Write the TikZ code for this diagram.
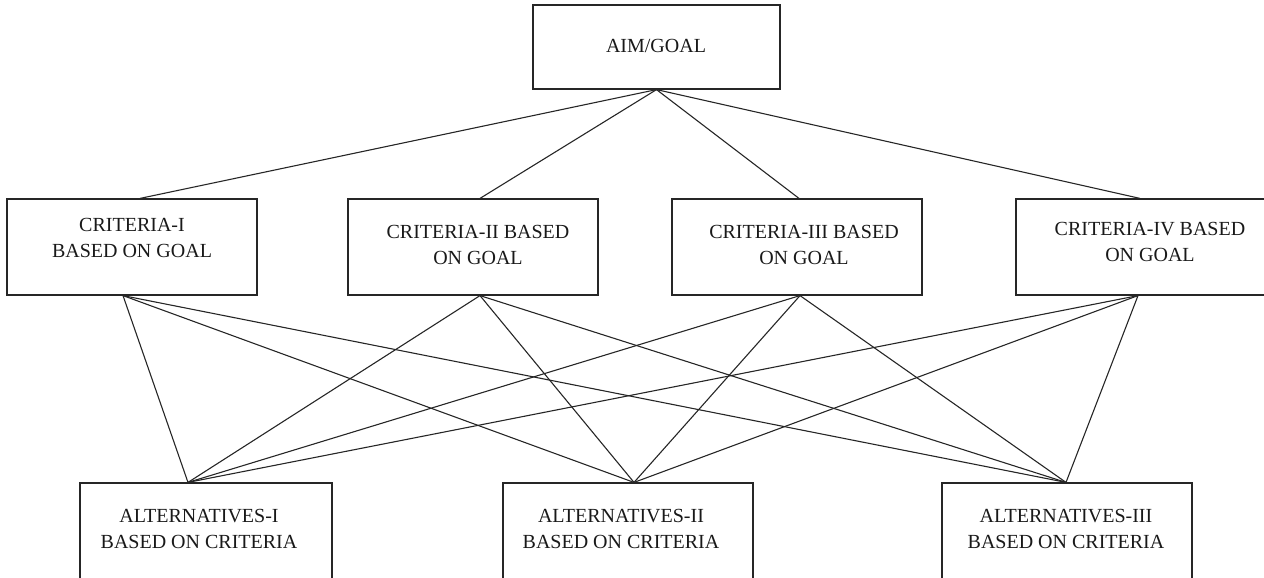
\documentclass[tikz,border=0pt]{standalone}
\usepackage{fontspec}
\setmainfont{Liberation Serif}
\begin{document}
\begin{tikzpicture}[x=0.5pt,y=-0.5pt,
  box/.style={draw=black!85, line width=0.6pt, rectangle, inner sep=0pt},
  lbl/.style={align=center, inner sep=0pt, font=\fontsize{10}{13}\selectfont, text=black!90},
  link/.style={draw=black!85, line width=0.55pt}]
\useasboundingbox (0,0) rectangle (1264,578);
% boxes
\node[box, minimum width=123.5pt, minimum height=42pt] (aim) at (656.5,47) {};
\node[box, minimum width=125pt, minimum height=48pt] (c1) at (132,247) {};
\node[box, minimum width=125pt, minimum height=48pt] (c2) at (473,247) {};
\node[box, minimum width=125pt, minimum height=48pt] (c3) at (797,247) {};
\node[box, minimum width=126pt, minimum height=48pt] (c4) at (1142,247) {};
\node[box, minimum width=126pt, minimum height=48pt] (a1) at (206,531) {};
\node[box, minimum width=125pt, minimum height=48pt] (a2) at (628,531) {};
\node[box, minimum width=125pt, minimum height=48pt] (a3) at (1067,531) {};
% labels
\node[lbl] (aimt) at (656,46) {AIM/GOAL};
\node[lbl] (c1t) at (132,238) {CRITERIA-I\\BASED ON GOAL};
\node[lbl] (c2t) at (478,245) {CRITERIA-II BASED\\ON GOAL};
\node[lbl] (c3t) at (804,245) {CRITERIA-III BASED\\ON GOAL};
\node[lbl] (c4t) at (1150,242) {CRITERIA-IV BASED\\ON GOAL};
\node[lbl] (a1t) at (199,529) {ALTERNATIVES-I\\BASED ON CRITERIA};
\node[lbl] (a2t) at (621,529) {ALTERNATIVES-II\\BASED ON CRITERIA};
\node[lbl] (a3t) at (1066,529) {ALTERNATIVES-III\\BASED ON CRITERIA};
% connection points
\coordinate (ab) at (aim.south);
\coordinate (c1u) at ([xshift=4pt]c1.north);
\coordinate (c2u) at ([xshift=3.5pt]c2.north);
\coordinate (c3u) at ([xshift=1pt]c3.north);
\coordinate (c4u) at ([xshift=-1pt]c4.north);
\coordinate (c1d) at ([xshift=-4.5pt]c1.south);
\coordinate (c2d) at ([xshift=3.5pt]c2.south);
\coordinate (c3d) at ([xshift=1.5pt]c3.south);
\coordinate (c4d) at ([xshift=-2pt]c4.south);
\coordinate (a1u) at ([xshift=-9pt]a1.north);
\coordinate (a2u) at ([xshift=3pt]a2.north);
\coordinate (a3u) at ([xshift=-0.5pt]a3.north);
% connectors
\foreach \c in {c1u,c2u,c3u,c4u} \draw[link] (ab) -- (\c);
\foreach \c in {c1d,c2d,c3d,c4d}
  \foreach \a in {a1u,a2u,a3u}
    \draw[link] (\c) -- (\a);
\end{tikzpicture}
\end{document}
